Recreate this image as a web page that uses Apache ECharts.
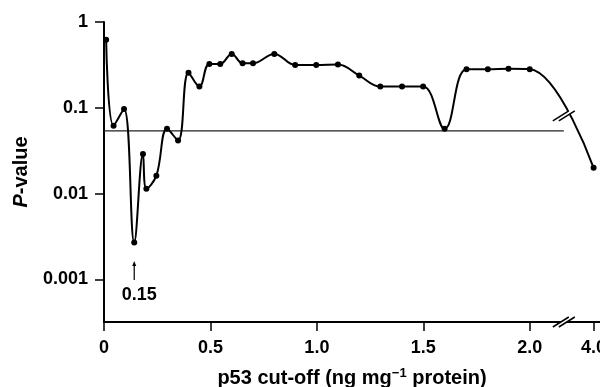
<!DOCTYPE html>
<html>
<head>
<meta charset="utf-8">
<script src="https://cdn.jsdelivr.net/npm/echarts@6/dist/echarts.min.js"></script>
<style>
  html, body { margin: 0; padding: 0; background: #fff; }
  #chart { width: 600px; height: 387px; }
</style>
</head>
<body>
<div id="chart"></div>
<script>
// p53 cut-off (ng mg-1 protein) and P-value at each cut-off
const cutOffs = [0.01, 0.045, 0.094, 0.142, 0.183, 0.199, 0.246, 0.296, 0.348, 0.397,
  0.448, 0.495, 0.546, 0.60, 0.651, 0.70, 0.80, 0.898, 0.997, 1.099,
  1.199, 1.298, 1.40, 1.499, 1.60, 1.703, 1.803, 1.90, 2.0, 4.0];
const pValues = [0.62, 0.062, 0.097, 0.0027, 0.029, 0.0114, 0.0162, 0.057, 0.0417, 0.257,
  0.177, 0.325, 0.325, 0.425, 0.33, 0.33, 0.425, 0.316, 0.316, 0.319,
  0.238, 0.177, 0.177, 0.177, 0.057, 0.282, 0.282, 0.285, 0.282, 0.02];
const refLevel = 0.054;
const xTicks = [0, 0.5, 1, 1.5, 2, 4];
const xTickLabels = ['0', '0.5', '1.0', '1.5', '2.0', '4.0'];
const yTicks = [0.001, 0.01, 0.1, 1];
const yTickLabels = ['0.001', '0.01', '0.1', '1'];
const breakStart = 2.16, breakEnd = 3.86;
const minCutOff = 0.142; // marked with arrow

const font = 'Liberation Sans, Arial, sans-serif';
const chart = echarts.init(document.getElementById('chart'));

function pickLabel(ticks, labels, v) {
  for (let i = 0; i < ticks.length; i++) {
    if (Math.abs(ticks[i] - v) < ticks[i] * 1e-6 + 1e-9) return labels[i];
  }
  return '';
}

chart.setOption({
  animation: false,
  grid: { left: 104, right: 0, top: 22, bottom: 65, outerBoundsMode: 'none' },
  xAxis: {
    type: 'value',
    min: 0,
    max: 4.03,
    breaks: [{ start: breakStart, end: breakEnd, gap: 0 }],
    breakArea: { show: false },
    axisLine: { lineStyle: { color: '#000', width: 2 } },
    axisTick: { show: true, length: 9, inside: false, customValues: xTicks,
      lineStyle: { color: '#000', width: 1.5 } },
    axisLabel: { customValues: xTicks, margin: 17, color: '#000',
      fontFamily: font, fontWeight: 'bold', fontSize: 18,
      formatter: v => pickLabel(xTicks, xTickLabels, v) },
    splitLine: { show: false },
    name: 'p53 cut-off (ng mg{sup|−1} protein)',
    nameLocation: 'middle',
    nameGap: 45,
    nameTextStyle: { color: '#000', fontFamily: font, fontWeight: 'bold', fontSize: 20,
      rich: { sup: { fontSize: 13, fontWeight: 'bold', fontFamily: font, color: '#000',
        verticalAlign: 'top', padding: [0, 0, 9, 0] } } }
  },
  yAxis: {
    type: 'log',
    logBase: 10,
    min: 0.00032,
    max: 1,
    axisLine: { show: true, lineStyle: { color: '#000', width: 2 } },
    axisTick: { show: true, length: 9, customValues: yTicks,
      lineStyle: { color: '#000', width: 1.5 } },
    axisLabel: { customValues: yTicks, margin: 16, color: '#000',
      fontFamily: font, fontWeight: 'bold', fontSize: 18,
      formatter: v => pickLabel(yTicks, yTickLabels, v) },
    splitLine: { show: false },
    name: '{i|P}-value',
    nameLocation: 'middle',
    nameGap: 73,
    nameTextStyle: { color: '#000', fontFamily: font, fontWeight: 'bold', fontSize: 20,
      rich: { i: { fontStyle: 'italic', fontWeight: 'bold', fontSize: 20, fontFamily: font, color: '#000' } } }
  },
  series: [
    {
      type: 'line',
      data: [[0, refLevel], [breakStart, refLevel]],
      symbol: 'none',
      lineStyle: { color: '#222', width: 1.3 },
      z: 1
    },
    {
      type: 'line',
      data: cutOffs.map((x, i) => [x, pValues[i]]),
      smooth: 0.4,
      symbol: 'circle',
      symbolSize: 6,
      itemStyle: { color: '#000' },
      lineStyle: { color: '#000', width: 2 },
      z: 3
    }
  ]
});

// break marks, arrow and label
function slashes(cx, cy) {
  const a = [-3, 0], b = [3, 0], d = [8, -5];
  const p = (o, s) => [cx + o[0] + s * d[0], cy + o[1] + s * d[1]];
  return [
    { type: 'polygon', shape: { points: [p(a, -1), p(a, 1), p(b, 1), p(b, -1)] },
      style: { fill: '#fff' }, z: 10 },
    { type: 'line', shape: { x1: p(a, -1)[0], y1: p(a, -1)[1], x2: p(a, 1)[0], y2: p(a, 1)[1] },
      style: { stroke: '#000', lineWidth: 1.5 }, z: 11 },
    { type: 'line', shape: { x1: p(b, -1)[0], y1: p(b, -1)[1], x2: p(b, 1)[0], y2: p(b, 1)[1] },
      style: { stroke: '#000', lineWidth: 1.5 }, z: 11 }
  ];
}
const xb = chart.convertToPixel({ xAxisIndex: 0 }, breakStart);
const y0 = chart.convertToPixel({ yAxisIndex: 0 }, 0.00032);
const pA = chart.convertToPixel({ gridIndex: 0 }, [cutOffs[28], pValues[28]]);
const pB = chart.convertToPixel({ gridIndex: 0 }, [cutOffs[29], pValues[29]]);
const yLine = pA[1] + (pB[1] - pA[1]) * (xb - pA[0]) / (pB[0] - pA[0]) - 6;
const ax = chart.convertToPixel({ xAxisIndex: 0 }, minCutOff);
const aTop = chart.convertToPixel({ yAxisIndex: 0 }, 0.0016);

chart.setOption({
  graphic: [].concat(
    slashes(xb, y0),
    slashes(xb, yLine),
    [
      { type: 'line', shape: { x1: ax, y1: aTop + 3, x2: ax, y2: aTop + 18 },
        style: { stroke: '#000', lineWidth: 1.2 } },
      { type: 'polygon', shape: { points: [[ax - 2, aTop + 4], [ax + 2, aTop + 4], [ax, aTop - 1]] },
        style: { fill: '#000' } },
      { type: 'text', x: ax + 5, y: aTop + 33,
        style: { text: '0.15', fill: '#000', font: 'bold 18px ' + font, align: 'center', verticalAlign: 'middle' } }
    ]
  )
});
</script>
</body>
</html>
